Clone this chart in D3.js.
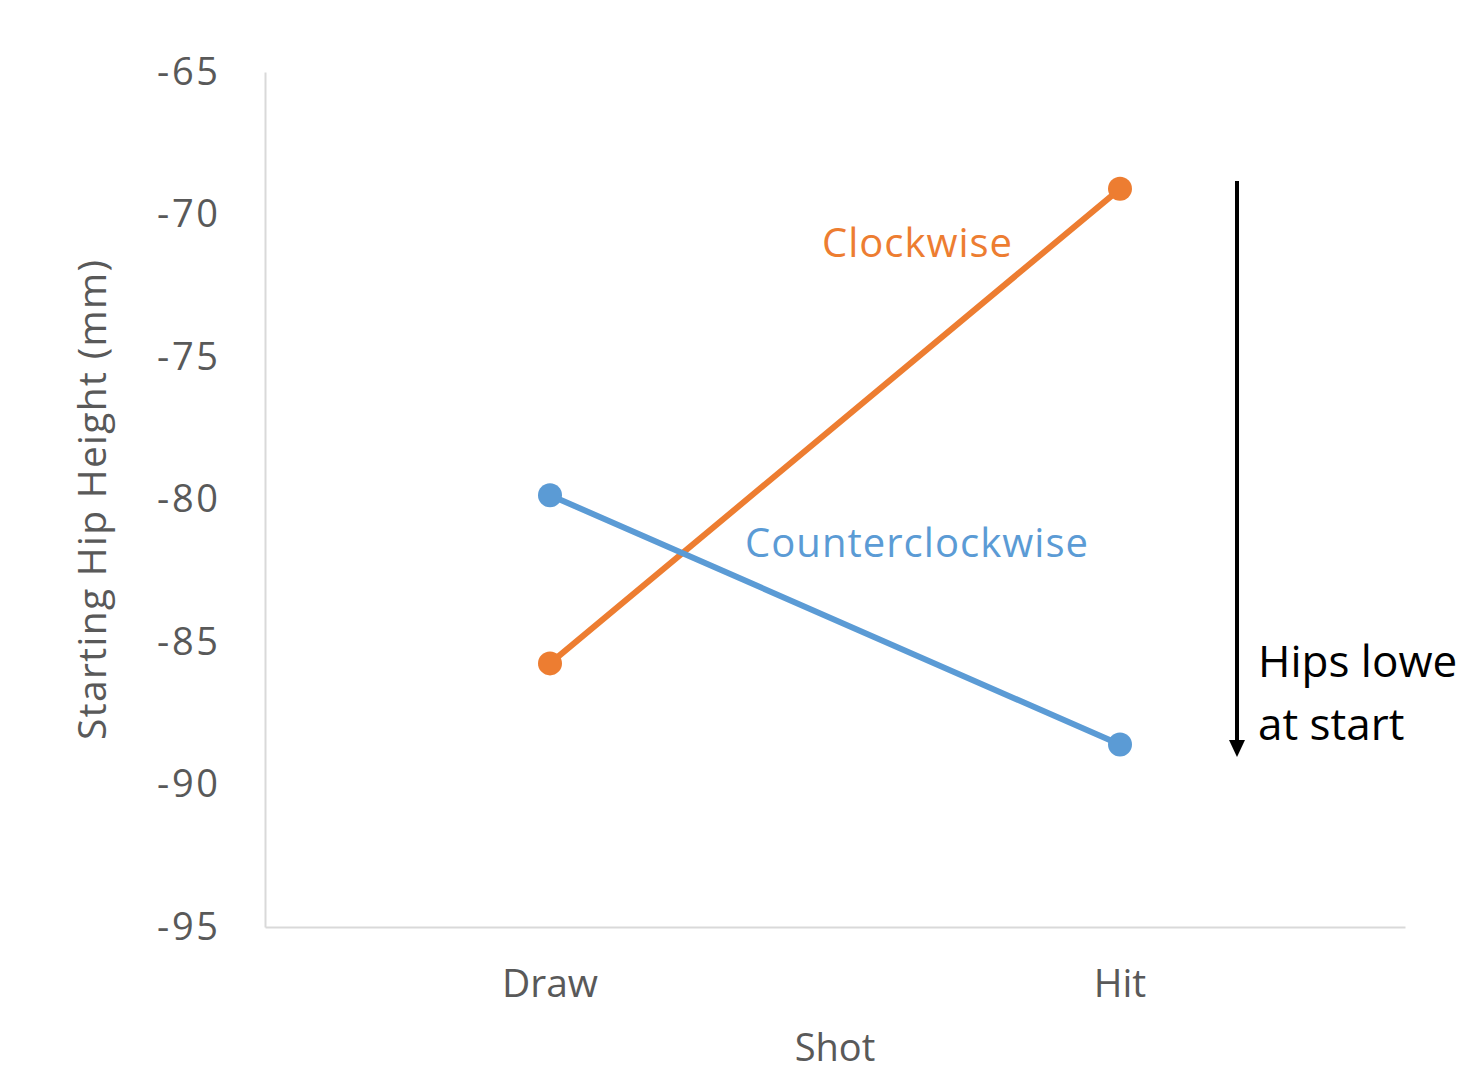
<!DOCTYPE html>
<html><head><meta charset="utf-8">
<script src="https://cdn.jsdelivr.net/npm/d3@7"></script>
<style>body{margin:0;background:#fff;}svg{display:block;font-family:"Open Sans",sans-serif;}</style>
</head><body>
<script>
const categories = ["Draw", "Hit"];
const clockwise = [-85.75, -69.1];
const counterclockwise = [-79.85, -88.6];
const yTicks = [-65, -70, -75, -80, -85, -90, -95];
const seriesNames = ["Clockwise", "Counterclockwise"];
const seriesColors = ["#ED7D31", "#5B9BD5"];

const W = 1459, H = 1073;
const svg = d3.select("body").append("svg").attr("width", W).attr("height", H);
const x = d3.scaleBand().domain(categories).range([265, 1405]);
const y = d3.scaleLinear().domain([-95, -65]).range([927, 72]);

// axes
const yAxis = d3.axisLeft(y).tickValues(yTicks).tickSize(0).tickPadding(47).tickFormat(d => d);
const gy = svg.append("g").attr("transform", "translate(265,0)").call(yAxis)
  .attr("font-family", "'Open Sans', sans-serif");
gy.select(".domain").attr("stroke", "#d9d9d9").attr("stroke-width", 2);
gy.selectAll("text").attr("fill", "#595959").attr("font-size", 38).attr("textLength", 61);

const xAxis = d3.axisBottom(x).tickSize(0).tickPadding(42);
const gx = svg.append("g").attr("transform", "translate(0,927)").call(xAxis)
  .attr("font-family", "'Open Sans', sans-serif");
gx.select(".domain").attr("stroke", "#d9d9d9").attr("stroke-width", 2);
gx.selectAll("text").attr("fill", "#595959").attr("font-size", 39);

// axis titles
svg.append("text").attr("transform", "translate(106,500) rotate(-90)")
  .attr("text-anchor", "middle").attr("fill", "#595959").attr("font-size", 39)
  .attr("textLength", 480).text("Starting Hip Height (mm)");
svg.append("text").attr("x", 835).attr("y", 1061).attr("text-anchor", "middle")
  .attr("fill", "#595959").attr("font-size", 38).text("Shot");

// series
const data = [clockwise, counterclockwise];
const line = d3.line().x((d, i) => x(categories[i]) + x.bandwidth() / 2).y(d => y(d));
data.forEach((vals, s) => {
  svg.append("path").datum(vals).attr("d", line).attr("fill", "none")
    .attr("stroke", seriesColors[s]).attr("stroke-width", 6).attr("stroke-linecap", "round");
  svg.selectAll(null).data(vals).enter().append("circle")
    .attr("cx", (d, i) => x(categories[i]) + x.bandwidth() / 2).attr("cy", d => y(d))
    .attr("r", 12).attr("fill", seriesColors[s]);
});

// series labels
svg.append("text").attr("x", 822).attr("y", 257).attr("fill", seriesColors[0])
  .attr("font-size", 40).attr("textLength", 190).text(seriesNames[0]);
svg.append("text").attr("x", 745).attr("y", 557).attr("fill", seriesColors[1])
  .attr("font-size", 40).attr("textLength", 343).text(seriesNames[1]);

// arrow annotation
svg.append("line").attr("x1", 1237).attr("y1", 181).attr("x2", 1237).attr("y2", 742)
  .attr("stroke", "#000").attr("stroke-width", 4);
svg.append("path").attr("d", "M1229,740 L1245,740 L1237,757 Z").attr("fill", "#000");
svg.append("text").attr("x", 1258).attr("y", 677).attr("fill", "#000")
  .attr("font-size", 44).text("Hips lower");
svg.append("text").attr("x", 1258).attr("y", 740).attr("fill", "#000")
  .attr("font-size", 44).text("at start");
</script>
</body></html>
